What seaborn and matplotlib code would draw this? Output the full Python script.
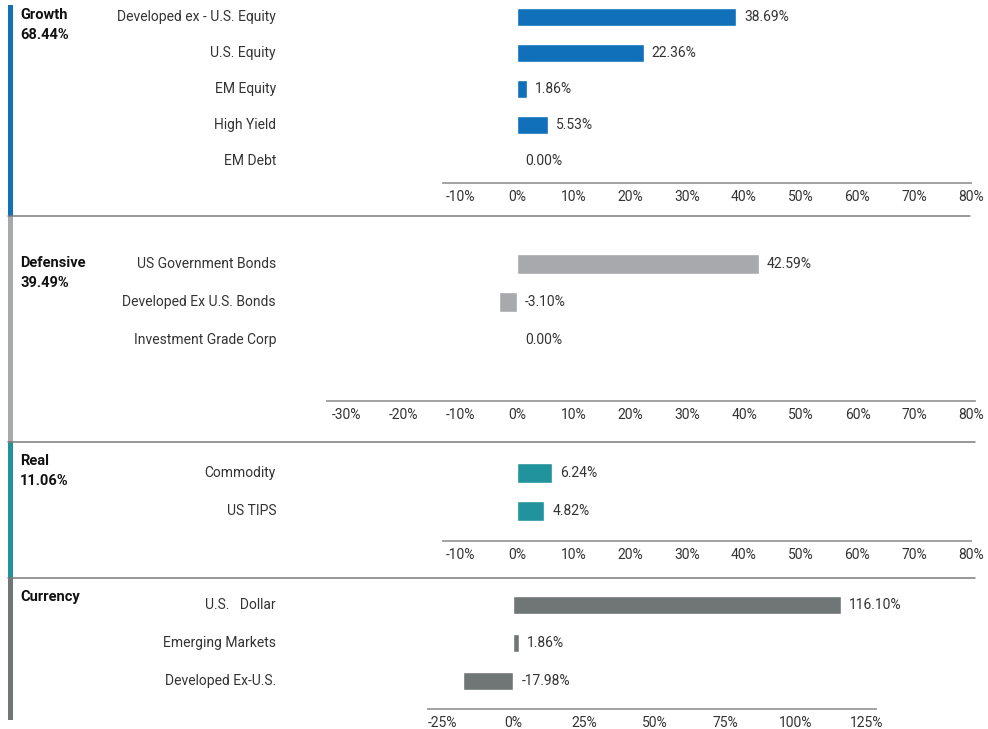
import numpy as np
import pandas as pd
import seaborn as sns
import matplotlib.pyplot as plt
from matplotlib.patches import Rectangle
from matplotlib.lines import Line2D
from matplotlib.transforms import blended_transform_factory

# ---- data ----
group_names = ['Growth', 'Defensive', 'Real', 'Currency']
group_totals = ['68.44%', '39.49%', '11.06%', '']

growth_cats = ['Developed ex - U.S. Equity', 'U.S. Equity', 'EM Equity', 'High Yield', 'EM Debt']
growth_vals = [38.69, 22.36, 1.86, 5.53, 0.00]

defensive_cats = ['US Government Bonds', 'Developed Ex U.S. Bonds', 'Investment Grade Corp']
defensive_vals = [42.59, -3.10, 0.00]

real_cats = ['Commodity', 'US TIPS']
real_vals = [6.24, 4.82]

currency_cats = ['U.S.   Dollar', 'Emerging Markets', 'Developed Ex-U.S.']
currency_vals = [116.10, 1.86, -17.98]

pct_ticks = [-10, 0, 10, 20, 30, 40, 50, 60, 70, 80]
pct_ticks_def = [-30, -20, -10, 0, 10, 20, 30, 40, 50, 60, 70, 80]
cur_ticks = [-25, 0, 25, 50, 75, 100, 125]

colors = ['#1070B9', '#A7A9AC', '#21939C', '#707575']

sns.set_theme(style='white')
plt.rcParams['font.family'] = ['Roboto', 'DejaVu Sans']

W, H = 988, 729
fig = plt.figure(figsize=(W / 100, H / 100), dpi=100)


def add_ax(x0, x1, y0, y1):
    return fig.add_axes([x0 / W, 1 - y1 / H, (x1 - x0) / W, (y1 - y0) / H])


def panel(cats, vals, color, box, xlim, ticks, row0, step, bar_w=0.52, fmt='{:d}%'):
    x0, x1, y0, y1 = box
    ax = add_ax(x0, x1, y0, y1)
    df = pd.DataFrame({'cat': cats, 'val': vals})
    sns.barplot(data=df, x='val', y='cat', orient='h', order=cats, color=color,
                width=bar_w, errorbar=None, saturation=1, ax=ax)
    n = len(cats)
    ax.set_ylim(n - 1 + (y1 - (row0 + step * (n - 1))) / step, -(row0 - y0) / step)
    ax.set_xlim(*xlim)
    ax.set_xticks(ticks)
    ax.set_xticklabels([fmt.format(t) for t in ticks], fontsize=10, color='#333333')
    ax.tick_params(axis='x', length=0, pad=5)
    ax.set_yticks([])
    ax.set_xlabel('')
    ax.set_ylabel('')
    for s in ['top', 'right', 'left']:
        ax.spines[s].set_visible(False)
    ax.spines['bottom'].set_color('#9a9a9a')
    ax.spines['bottom'].set_linewidth(1.3)
    ax.patch.set_alpha(0)
    # category names on the left
    tr = blended_transform_factory(fig.transFigure, ax.transData)
    for i, c in enumerate(cats):
        ax.text(276 / W, i, c, transform=tr, ha='right', va='center',
                fontsize=10, color='#333333')
    # value labels
    px = (xlim[1] - xlim[0]) / (x1 - x0)
    for i, v in enumerate(vals):
        ax.text(max(v, 0) + 8 * px, i, f'{v:.2f}%', ha='left', va='center',
                fontsize=10, color='#333333')
    return ax


# growth: 0% at ~517px, 5.68 px per %
panel(growth_cats, growth_vals, colors[0], (443, 971, 5, 183),
      (-13.0, 79.9), pct_ticks, 17, 36)
panel(defensive_cats, defensive_vals, colors[1], (327, 975, 226, 401),
      (-33.4, 80.6), pct_ticks_def, 264, 38)
panel(real_cats, real_vals, colors[2], (443, 971, 452, 541),
      (-13.0, 79.9), pct_ticks, 473, 38)
panel(currency_cats, currency_vals, colors[3], (428, 876, 588, 709),
      (-30.3, 128.5), cur_ticks, 605, 38, bar_w=0.48)

# left colour strips
bounds = [(5, 216), (216, 442), (442, 578), (578, 720)]
for (top, bot), col in zip(bounds, colors):
    fig.add_artist(Rectangle((8 / W, 1 - bot / H), 5 / W, (bot - top) / H,
                             transform=fig.transFigure, color=col, lw=0))

# group headers
header_y = [15, 263, 461, 597]
for y, name, tot in zip(header_y, group_names, group_totals):
    fig.text(20 / W, 1 - y / H, name, fontsize=10.5, fontweight='bold',
             va='center', color='#111111')
    if tot:
        fig.text(20 / W, 1 - (y + 20) / H, tot, fontsize=10.5, fontweight='bold',
                 va='center', color='#111111')

for y, xr in [(216, 970), (442, 975), (578, 975)]:
    fig.add_artist(Line2D([8 / W, xr / W], [1 - y / H, 1 - y / H],
                          transform=fig.transFigure, color='#7a7a7a', lw=1.1))

fig.savefig('out.png', dpi=100, facecolor='white')
